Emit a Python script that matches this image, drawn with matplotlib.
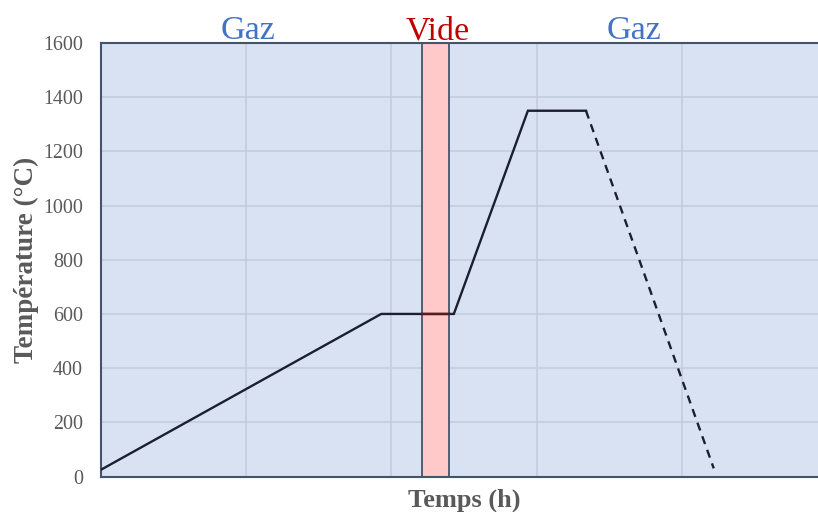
import matplotlib
matplotlib.use('Agg')
import matplotlib.pyplot as plt

# temperature cycle (time in grid units, temperature in °C)
t_solid = [0, 1.93, 2.43, 2.94, 3.34]
T_solid = [25, 600, 600, 1350, 1350]
t_cool = [3.34, 4.22]
T_cool = [1350, 30]

# vacuum window
vide_start, vide_end = 2.21, 2.40

# atmosphere labels
zones = ['Gaz', 'Vide', 'Gaz']
zone_x = [1.015, 2.32, 3.67]
zone_colors = ['#4472C4', '#C00000', '#4472C4']

y_ticks = [0, 200, 400, 600, 800, 1000, 1200, 1400, 1600]

plt.rcParams['font.family'] = ['Liberation Serif', 'DejaVu Serif']

fig = plt.figure(figsize=(8.18, 5.12), dpi=100)
ax = fig.add_axes([101 / 818, 1 - 476.5 / 512, 726 / 818, 433.5 / 512])
ax.set_facecolor('#D9E2F3')

ax.set_xlim(0, 5)
ax.set_ylim(0, 1600)
ax.set_xticks([0, 1, 2, 3, 4, 5])
ax.set_yticks(y_ticks)
ax.set_xticklabels([])
ax.tick_params(length=0, labelsize=14.4, labelcolor='#595959', pad=13)
ax.tick_params(axis='x', pad=0)
ax.grid(True, color='#C3CBDB', linewidth=1.1)
ax.set_axisbelow(True)

for side in ['left', 'top', 'bottom']:
    ax.spines[side].set_color('#44546A')
    ax.spines[side].set_linewidth(1.5)
ax.spines['right'].set_visible(False)

# pink vacuum band
ax.axvspan(vide_start, vide_end, facecolor='#FFC9C9', edgecolor='#44546A',
           linewidth=1.3, zorder=2)

line_col = '#1B2030'
ax.plot(t_solid, T_solid, color=line_col, linewidth=1.7, zorder=3,
        solid_joinstyle='miter')
# part of the plateau seen through the band
ax.plot([vide_start, vide_end], [T_solid[2], T_solid[2]], color='#5C1B20',
        linewidth=1.7, zorder=4)
ax.plot(t_cool, T_cool, color=line_col, linewidth=1.7, zorder=3,
        dashes=(3.5, 2.6))

for name, x, c in zip(zones, zone_x, zone_colors):
    ax.text(x, 1.009, name, transform=ax.get_xaxis_transform(), ha='center',
            va='baseline', fontsize=24.5, color=c)

ax.set_ylabel('Température (°C)', fontsize=19.5, fontweight='bold',
              color='#595959', labelpad=3)
ax.set_xlabel('Temps (h)', fontsize=19, fontweight='bold', color='#595959',
              labelpad=9)

fig.savefig('out.png', dpi=100)
